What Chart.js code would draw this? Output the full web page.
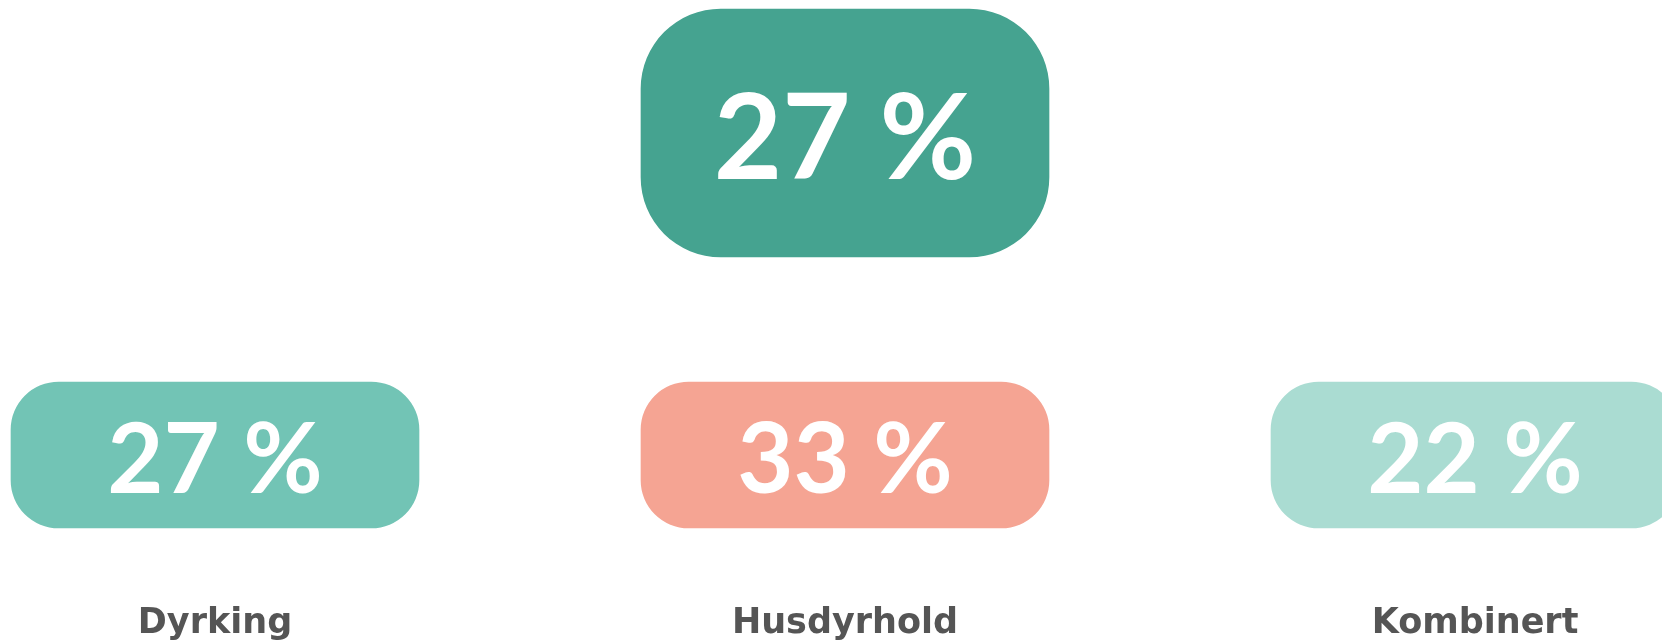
<!DOCTYPE html>
<html>
<head>
<meta charset="utf-8">
<script src="https://cdn.jsdelivr.net/npm/chart.js@4/dist/chart.umd.min.js"></script>
<style>
  html, body { margin: 0; padding: 0; background: #ffffff; }
  #wrap { width: 1662px; height: 643px; }
</style>
</head>
<body>
<div id="wrap"><canvas id="shareChart" width="1662" height="643"></canvas></div>
<script>
// data
var categories = ['Dyrking', 'Husdyrhold', 'Kombinert'];
var shares = [27, 33, 22];        // small boxes, one per category
var totalShare = 27;              // big box above the middle one
var totalColumn = 'Husdyrhold';

var shareColors = ['#72C4B5', '#F5A493', '#AADCD2'];
var totalColor = '#45A390';

// box rows on the (hidden) y axis, in pixel-like units from the bottom
var smallRow = [0, 146];
var bigRow = [271, 519];

// writes "NN %" in the middle of every box
var boxTextPlugin = {
  id: 'boxText',
  afterDatasetsDraw: function(chart) {
    var ctx = chart.ctx;
    chart.data.datasets.forEach(function(ds, i) {
      var meta = chart.getDatasetMeta(i);
      meta.data.forEach(function(bar, j) {
        var v = ds.shareValues[j];
        if (v == null) return;
        var mid = (bar.y + bar.base) / 2;
        ctx.save();
        ctx.fillStyle = '#ffffff';
        ctx.font = 'bold ' + ds.textSize + 'px Lato';
        ctx.textAlign = 'center';
        ctx.textBaseline = 'alphabetic';
        ctx.fillText(v + ' %', bar.x, mid + ds.textSize * 0.39);
        ctx.restore();
      });
    });
  }
};

function init() {
  var ctx = document.getElementById('shareChart').getContext('2d');

  var totalData = categories.map(function(c) { return c === totalColumn ? bigRow : null; });
  var totalValues = categories.map(function(c) { return c === totalColumn ? totalShare : null; });

  var chart = new Chart(ctx, {
    type: 'bar',
    data: {
      labels: categories,
      datasets: [{
        label: 'Andel',
        data: categories.map(function() { return smallRow; }),
        shareValues: shares,
        textSize: 97,
        backgroundColor: shareColors,
        borderRadius: 48,
        borderSkipped: false,
        borderWidth: 0,
        barThickness: 408,
        clip: false
      }, {
        label: 'Totalt',
        data: totalData,
        shareValues: totalValues,
        textSize: 118,
        backgroundColor: totalColor,
        borderRadius: 80,
        borderSkipped: false,
        borderWidth: 0,
        barThickness: 408,
        clip: false
      }]
    },
    options: {
      responsive: false,
      animation: false,
      grouped: false,
      layout: {
        padding: { left: 215, right: 187, top: 9, bottom: 2 }
      },
      scales: {
        x: {
          offset: false,
          grid: { display: false, drawTicks: false },
          border: { display: false },
          ticks: {
            color: '#555555',
            padding: 75,
            maxRotation: 0,
            font: { family: 'DejaVu Sans', weight: 'bold', size: 35 }
          },
          afterFit: function(scale) {
            scale.height = 113;
          }
        },
        y: {
          display: false,
          min: 0,
          max: 519
        }
      },
      plugins: {
        legend: { display: false },
        tooltip: { enabled: false }
      }
    },
    plugins: [boxTextPlugin]
  });
}

init();
</script>
</body>
</html>
